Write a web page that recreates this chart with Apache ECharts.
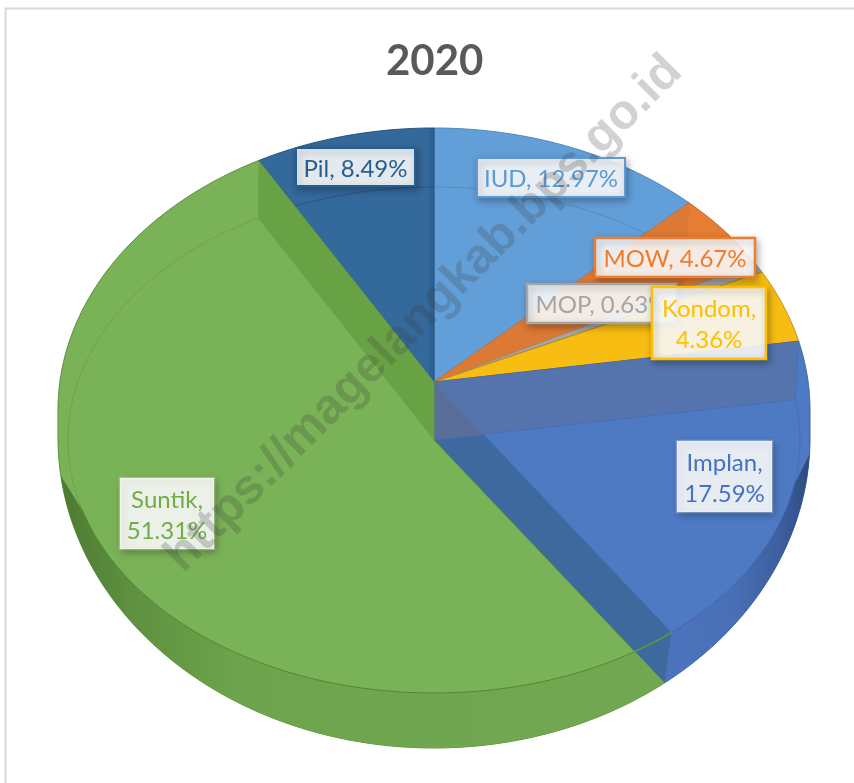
<!DOCTYPE html>
<html>
<head>
<meta charset="utf-8">
<title>2020</title>
<script src="https://cdn.jsdelivr.net/npm/echarts@6/dist/echarts.min.js"></script>
<style>
    html, body {margin: 0; padding: 0; background: #fff;}
    #chart {width: 854px; height: 783px;}
</style>
</head>
<body>
<div id="chart"></div>
<script>
// clockwise from 12 o'clock
const categories = ['IUD', 'MOW', 'MOP', 'Kondom', 'Implan', 'Suntik', 'Pil'];
const shares = [12.97, 4.67, 0.63, 4.36, 17.59, 51.31, 8.49];
const titleText = '2020';
const watermarkText = 'https://magelangkab.bps.go.id';

const faceColors = ['#629fd8', '#e57d33', '#a5a5a5', '#f7bd12', '#4e7ac4', '#7ab257', '#34699b'];
const edgeColors = ['#4f86bb', '#b9642a', '#8a8a8a', '#b98d10', '#3d62a3', '#5c8f3c', '#24507c'];
const textColors = ['#5b9bd5', '#ed7d31', '#a5a5a5', '#ffc000', '#4472c4', '#70ad47', '#255e91'];
// label boxes: x, y, w, h, and the separator between name and value
const labelBoxes = [
    [477, 158, 148, 39, ', '],
    [595, 238, 160, 39, ', '],
    [527, 284, 149, 39, ', '],
    [652, 287, 114, 72, ',\n'],
    [677, 441, 95, 71, ',\n'],
    [120, 478, 94, 71, ',\n'],
    [296, 148, 119, 38, ', '],
];

// the tilted pie: upper and lower halves of the silhouette, rim of the lower face, two centre points
const OUT_TOP = {cx: 434, cy: 410, rx: 376, ry: 282};
const OUT_BOT = {cx: 434, cy: 438, rx: 376, ry: 310};
const RIM = {cx: 434, cy: 440, rx: 366, ry: 253};
const apexTop = [434, 382];
const apexLow = [434, 440];
const DIR_RX = 376;
const DIR_RY = 280;

const total = shares.reduce((sum, v) => sum + v, 0);
const starts = [];
shares.reduce((sum, v, i) => {
    starts[i] = sum / total * Math.PI * 2;
    return sum + v;
}, 0);

function dir(t) {
    return [DIR_RX * Math.sin(t), -DIR_RY * Math.cos(t)];
}

// where a ray from o leaves the ellipse e
function hit(o, d, e) {
    const ox = (o[0] - e.cx) / e.rx;
    const oy = (o[1] - e.cy) / e.ry;
    const dx = d[0] / e.rx;
    const dy = d[1] / e.ry;
    const a = dx * dx + dy * dy;
    const b = 2 * (ox * dx + oy * dy);
    const c = ox * ox + oy * oy - 1;
    const s = (-b + Math.sqrt(b * b - 4 * a * c)) / (2 * a);
    return [o[0] + d[0] * s, o[1] + d[1] * s];
}

// clockwise-from-top parameter of a point on e, in 0..2PI
function phiOf(p, e) {
    const a = Math.atan2((p[0] - e.cx) / e.rx, -(p[1] - e.cy) / e.ry);
    return a < 0 ? a + Math.PI * 2 : a;
}

function onEllipse(e, phi) {
    return [e.cx + e.rx * Math.sin(phi), e.cy - e.ry * Math.cos(phi)];
}

function arc(e, phi0, phi1) {
    const pts = [];
    const n = 80;
    for (let k = 0; k <= n; k++) {
        pts.push(onEllipse(e, phi0 + (phi1 - phi0) * k / n));
    }
    return pts;
}

function cross(a, b, c, d) {
    const r = [b[0] - a[0], b[1] - a[1]];
    const q = [d[0] - c[0], d[1] - c[1]];
    const s = ((c[0] - a[0]) * q[1] - (c[1] - a[1]) * q[0]) / (r[0] * q[1] - r[1] * q[0]);
    return [a[0] + r[0] * s, a[1] + r[1] * s];
}

const deg = Math.PI / 180;

function poly(points, fill, stroke, z2, lineWidth) {
    return {
        type: 'polygon',
        z2: z2,
        shape: {points: points},
        style: {fill: fill, stroke: stroke || null, lineWidth: lineWidth || 1},
    };
}

function line(points, stroke, z2, lineWidth) {
    return {
        type: 'polyline',
        z2: z2,
        shape: {points: points},
        style: {fill: null, stroke: stroke, lineWidth: lineWidth || 1},
    };
}

function hGrad(stops) {
    return new echarts.graphic.LinearGradient(0, 0, 1, 0, stops.map((s) => ({offset: s[0], color: s[1]})));
}

function backSlice(i, t0, t1) {
    const a = hit(apexTop, dir(t0), OUT_TOP);
    const b = hit(apexTop, dir(t1), OUT_TOP);
    const phiA = phiOf(a, OUT_TOP);
    let phiB = phiOf(b, OUT_TOP);
    if (phiB < phiA) {
        phiB += Math.PI * 2;
    }
    const out = [poly([apexTop].concat(arc(OUT_TOP, phiA, phiB)), faceColors[i], edgeColors[i], 1)];
    const rimA = hit(apexTop, dir(t0), RIM);
    const rimB = hit(apexTop, dir(t1), RIM);
    let phiRB = phiOf(rimB, RIM);
    const phiRA = phiOf(rimA, RIM);
    if (phiRB < phiRA) {
        phiRB += Math.PI * 2;
    }
    if (categories[i] === 'IUD' || categories[i] === 'Pil') {
        out.push(line(arc(RIM, phiRA, phiRB), edgeColors[i], 1.5, 0.8));
    }
    if (categories[i] === 'MOW') {
        // darker cut face of the neighbouring slice
        const foot = cross(apexTop, b, a, [a[0] - 5, a[1] + 100]);
        out.push(poly([apexTop, a, foot], '#db7935', null, 1.2));
    }
    if (categories[i] === 'Pil') {
        out.push(poly([apexTop, b, [b[0] - 5, b[1]], [apexTop[0] - 5, apexTop[1] - 6]], 'rgba(30,70,110,0.2)', null, 1.3));
    }
    return out;
}

function implanSlice(i, t0, t1) {
    const a = hit(apexTop, dir(t0), OUT_TOP);
    const aLow = hit(apexLow, dir(t0), RIM);
    const p1 = hit(apexTop, dir(t1), RIM);
    const p2 = hit(apexLow, dir(t1), OUT_BOT);
    const phiA = phiOf(a, OUT_TOP);
    const phiP2 = phiOf(p2, OUT_BOT);
    const phiP1 = phiOf(p1, RIM);
    const out = [];
    const edge = arc(OUT_TOP, phiA, 90 * deg).concat(arc(OUT_BOT, 90 * deg, phiP2));
    out.push(poly([apexTop].concat(edge, [apexLow]), faceColors[i], '#3d62a3', 2));
    // outer wall below the rim
    const wall = arc(RIM, 100 * deg, phiP1).concat(arc(OUT_BOT, phiP2, 93 * deg));
    out.push(poly(wall, hGrad([[0, '#4c74bd'], [0.45, '#4a70b6'], [0.8, '#3d5f9f'], [1, '#2f4a80']]), null, 2.2));
    out.push(line(arc(RIM, phiOf(aLow, RIM), 100 * deg), '#4568a8', 2.3, 0.8));
    out.push(line(arc(RIM, 100 * deg, phiP1), '#3f67ae', 2.3, 1));
    // cut face towards Suntik
    out.push(poly([apexTop, p1, p2, apexLow], '#3e699f', null, 2.5));
    // cut face towards Kondom
    out.push(poly([apexTop, a, aLow, apexLow], '#5574ad', null, 3));
    out.push(line([apexLow, aLow], '#466fb8', 3.1, 1));
    out.push(line([a, aLow], '#466fb8', 3.1, 1));
    const x = cross(apexTop, p1, apexLow, aLow);
    out.push(poly([apexTop, x, apexLow], '#5a6e9b', null, 3.2));
    return out;
}

function suntikSlice(i, t0, t1) {
    const p1 = hit(apexTop, dir(t0), RIM);
    const p2 = hit(apexLow, dir(t0), OUT_BOT);
    const q = hit(apexLow, dir(t0), RIM);
    const b = hit(apexTop, dir(t1), OUT_TOP);
    const bLow = hit(apexLow, dir(t1), RIM);
    const phiP2 = phiOf(p2, OUT_BOT);
    const phiB = phiOf(b, OUT_TOP);
    const phiQ = phiOf(q, RIM);
    const phiBL = phiOf(bLow, RIM);
    const out = [];
    const edge = arc(OUT_BOT, phiP2, 270 * deg).concat(arc(OUT_TOP, 270 * deg, phiB));
    out.push(poly([apexLow].concat(edge, [apexTop]), faceColors[i], '#5c8f3c', 4));
    const wall = arc(OUT_BOT, 263 * deg, phiP2).concat(arc(RIM, phiQ, 254 * deg));
    out.push(poly(wall, hGrad([[0, '#4d7a33'], [0.12, '#5f9140'], [0.3, '#6ea44d'], [1, '#72a851']]), null, 4.2));
    out.push(line(arc(RIM, 254 * deg, phiQ), '#4f8a30', 4.3, 1));
    out.push(line(arc(RIM, phiQ, phiOf(p1, RIM)), '#5f9a3c', 4.3, 1.5));
    out.push(line(arc(RIM, 254 * deg, phiBL), '#69a149', 4.3, 0.8));
    // cut face towards Pil
    out.push(poly([apexTop, b, bLow, apexLow], '#68a245', null, 4.5));
    return out;
}

function labelOf(i) {
    const box = labelBoxes[i];
    return [
        {
            type: 'rect',
            z2: 10 + i * 0.1,
            shape: {x: box[0], y: box[1], width: box[2], height: box[3]},
            style: {
                fill: 'rgba(255,255,255,0.88)',
                stroke: i === 4 || i === 5 ? 'rgba(255,255,255,0.3)' : textColors[i],
                lineWidth: i === 0 || i === 6 ? 2 : 2.5,
                shadowBlur: 7,
                shadowOffsetX: 2,
                shadowOffsetY: 3,
                shadowColor: 'rgba(0,0,0,0.3)',
            },
        },
        {
            type: 'text',
            z2: 10.05 + i * 0.1,
            style: {
                x: box[0] + box[2] / 2,
                y: box[1] + box[3] / 2 + 2,
                text: categories[i] + box[4] + shares[i].toFixed(2) + '%',
                fill: textColors[i],
                font: '24px Lato',
                lineHeight: 31,
                align: 'center',
                verticalAlign: 'middle',
            },
        },
    ];
}

function renderSlice(params) {
    const i = params.dataIndex;
    const t0 = starts[i];
    const t1 = t0 + shares[i] / total * Math.PI * 2;
    let children;
    if (categories[i] === 'Implan') {
        children = implanSlice(i, t0, t1);
    } else if (categories[i] === 'Suntik') {
        children = suntikSlice(i, t0, t1);
    } else {
        children = backSlice(i, t0, t1);
    }
    return {type: 'group', children: children.concat(labelOf(i))};
}

const chart = echarts.init(document.getElementById('chart'));
chart.setOption({
    animation: false,
    backgroundColor: '#fff',
    title: {
        text: titleText,
        left: 386,
        top: 40,
        padding: 0,
        textStyle: {
            color: '#595959',
            fontFamily: 'Lato',
            fontWeight: 'bold',
            fontSize: 42,
        },
    },
    graphic: {
        elements: [
            {
                type: 'polyline',
                z: 1,
                shape: {points: [[5.5, 783], [5.5, 8.5], [854, 8.5]]},
                style: {fill: null, stroke: '#d9d9d9', lineWidth: 2},
            },
            {
                type: 'text',
                z: 100,
                silent: true,
                x: 424,
                y: 314,
                rotation: 45 * deg,
                style: {
                    text: watermarkText,
                    font: 'bold 49px "Liberation Sans"',
                    fill: 'rgba(60,60,60,0.23)',
                    align: 'center',
                    verticalAlign: 'middle',
                },
            },
        ],
    },
    series: [
        {
            type: 'custom',
            coordinateSystem: 'none',
            renderItem: renderSlice,
            silent: true,
            data: categories.map((name, i) => ({name: name, value: shares[i]})),
        },
    ],
});
</script>
</body>
</html>
